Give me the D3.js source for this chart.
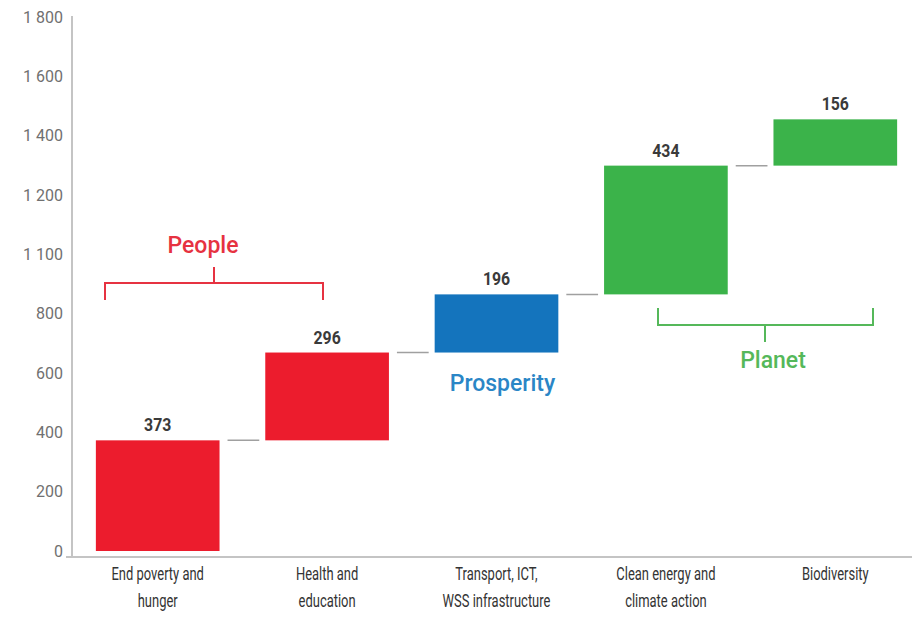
<!DOCTYPE html>
<html>
<head>
<meta charset="utf-8">
<script src="https://cdn.jsdelivr.net/npm/d3@7"></script>
<style>
  html, body { margin: 0; padding: 0; background: #fff; }
  svg { display: block; }
  text { font-family: Roboto, "DejaVu Sans", sans-serif; }
</style>
</head>
<body>
<svg id="chart" width="912" height="620"></svg>
<script>
// ---- data ----
const categories = [
  ["End poverty and", "hunger"],
  ["Health and", "education"],
  ["Transport, ICT,", "WSS infrastructure"],
  ["Clean energy and", "climate action"],
  ["Biodiversity"]
];
const values = [373, 296, 196, 434, 156];
const groups = ["People", "People", "Prosperity", "Planet", "Planet"];
const tickValues = [0, 200, 400, 600, 800, 1000, 1200, 1400, 1600, 1800];
const tickLabels = ["0", "200", "400", "600", "800", "1 100", "1 200", "1 400", "1 600", "1 800"];
const groupNames = ["People", "Prosperity", "Planet"];

// ---- styles ----
const barColor = { People: "#ec1c2d", Prosperity: "#1474bd", Planet: "#3bb34a" };
const textColor = { People: "#e63241", Prosperity: "#2a86c6", Planet: "#55b85a" };

const svg = d3.select("#chart");
const W = 912;
const left = 73, right = 920, plotBottom = 557;

const x = d3.scaleBand().domain(d3.range(categories.length))
  .range([left, right]).paddingInner(0.27).paddingOuter(0.135);
const y = d3.scaleLinear().domain([0, 1800]).range([551, 17]);

// cumulative
let acc = 0;
const rows = values.map((v, i) => {
  const r = { i, v, start: acc, end: acc + v, group: groups[i] };
  acc += v;
  return r;
});

// axes lines
const axisColor = "#c4c4c4";
svg.append("line").attr("x1", 72).attr("x2", 72).attr("y1", 16).attr("y2", plotBottom)
  .attr("stroke", axisColor).attr("stroke-width", 2);
svg.append("line").attr("x1", 66).attr("x2", W).attr("y1", plotBottom).attr("y2", plotBottom)
  .attr("stroke", axisColor).attr("stroke-width", 2);

// y tick labels
const yAxis = d3.axisLeft(y).tickValues(tickValues)
  .tickFormat((d, i) => tickLabels[i]).tickSize(0).tickPadding(0);
const gy = svg.append("g").attr("transform", "translate(63,0)").call(yAxis);
gy.select(".domain").remove();
gy.selectAll("text").attr("font-size", 16).attr("fill", "#707070")
  .style("font-family", "Roboto, sans-serif");

// connectors
svg.append("g").selectAll("line").data(rows.slice(0, -1)).join("line")
  .attr("x1", d => x(d.i) + x.bandwidth() + 8)
  .attr("x2", d => x(d.i + 1) - 6)
  .attr("y1", d => y(d.end)).attr("y2", d => y(d.end))
  .attr("stroke", "#a0a0a0").attr("stroke-width", 1.5);

// bars
svg.append("g").selectAll("rect").data(rows).join("rect")
  .attr("x", d => x(d.i)).attr("width", x.bandwidth())
  .attr("y", d => y(d.end)).attr("height", d => y(d.start) - y(d.end))
  .attr("fill", d => barColor[d.group]);

// value labels
svg.append("g").selectAll("text").data(rows).join("text")
  .attr("transform", d => `translate(${x(d.i) + x.bandwidth() / 2},${y(d.end) - 9}) scale(0.88,1)`)
  .attr("text-anchor", "middle")
  .attr("font-size", 18).attr("font-weight", "bold").attr("fill", "#3a3a3a")
  .text(d => d.v);

// x category labels
const xl = svg.append("g").selectAll("text").data(categories).join("text")
  .attr("transform", (d, i) => `translate(${x(i) + x.bandwidth() / 2},580) scale(0.72,1)`)
  .attr("text-anchor", "middle")
  .attr("font-size", 18).attr("fill", "#333");
xl.selectAll("tspan").data(d => d).join("tspan")
  .attr("x", 0)
  .attr("dy", (d, j) => j === 0 ? 0 : 27)
  .text(d => d);

// group brackets & labels
const ann = svg.append("g");
function cx(i) { return x(i) + x.bandwidth() / 2; }

// People: bracket above bars 0-1, opening downward
{
  const x1 = 105, x2 = 323, yb = 283, xm = 214;
  ann.append("path")
    .attr("d", `M${x1},${yb + 17}V${yb}H${x2}V${yb + 17}M${xm},${yb}V${yb - 16}`)
    .attr("fill", "none").attr("stroke", textColor.People).attr("stroke-width", 2);
  ann.append("text").attr("x", 203).attr("y", 253).attr("text-anchor", "middle")
    .attr("font-size", 23).attr("font-weight", 500).attr("fill", textColor.People)
    .text(groupNames[0]);
}
// Prosperity label
ann.append("text").attr("x", cx(2) + 6).attr("y", 391).attr("text-anchor", "middle")
  .attr("font-size", 23).attr("font-weight", 500).attr("fill", textColor.Prosperity)
  .text(groupNames[1]);
// Planet: bracket below, opening upward
{
  const x1 = 658, x2 = 873, yb = 325, xm = 765;
  ann.append("path")
    .attr("d", `M${x1},${yb - 17}V${yb}H${x2}V${yb - 17}M${xm},${yb}V${yb + 17}`)
    .attr("fill", "none").attr("stroke", textColor.Planet).attr("stroke-width", 2);
  ann.append("text").attr("x", 773).attr("y", 368).attr("text-anchor", "middle")
    .attr("font-size", 23).attr("font-weight", 500).attr("fill", textColor.Planet)
    .text(groupNames[2]);
}
</script>
</body>
</html>
